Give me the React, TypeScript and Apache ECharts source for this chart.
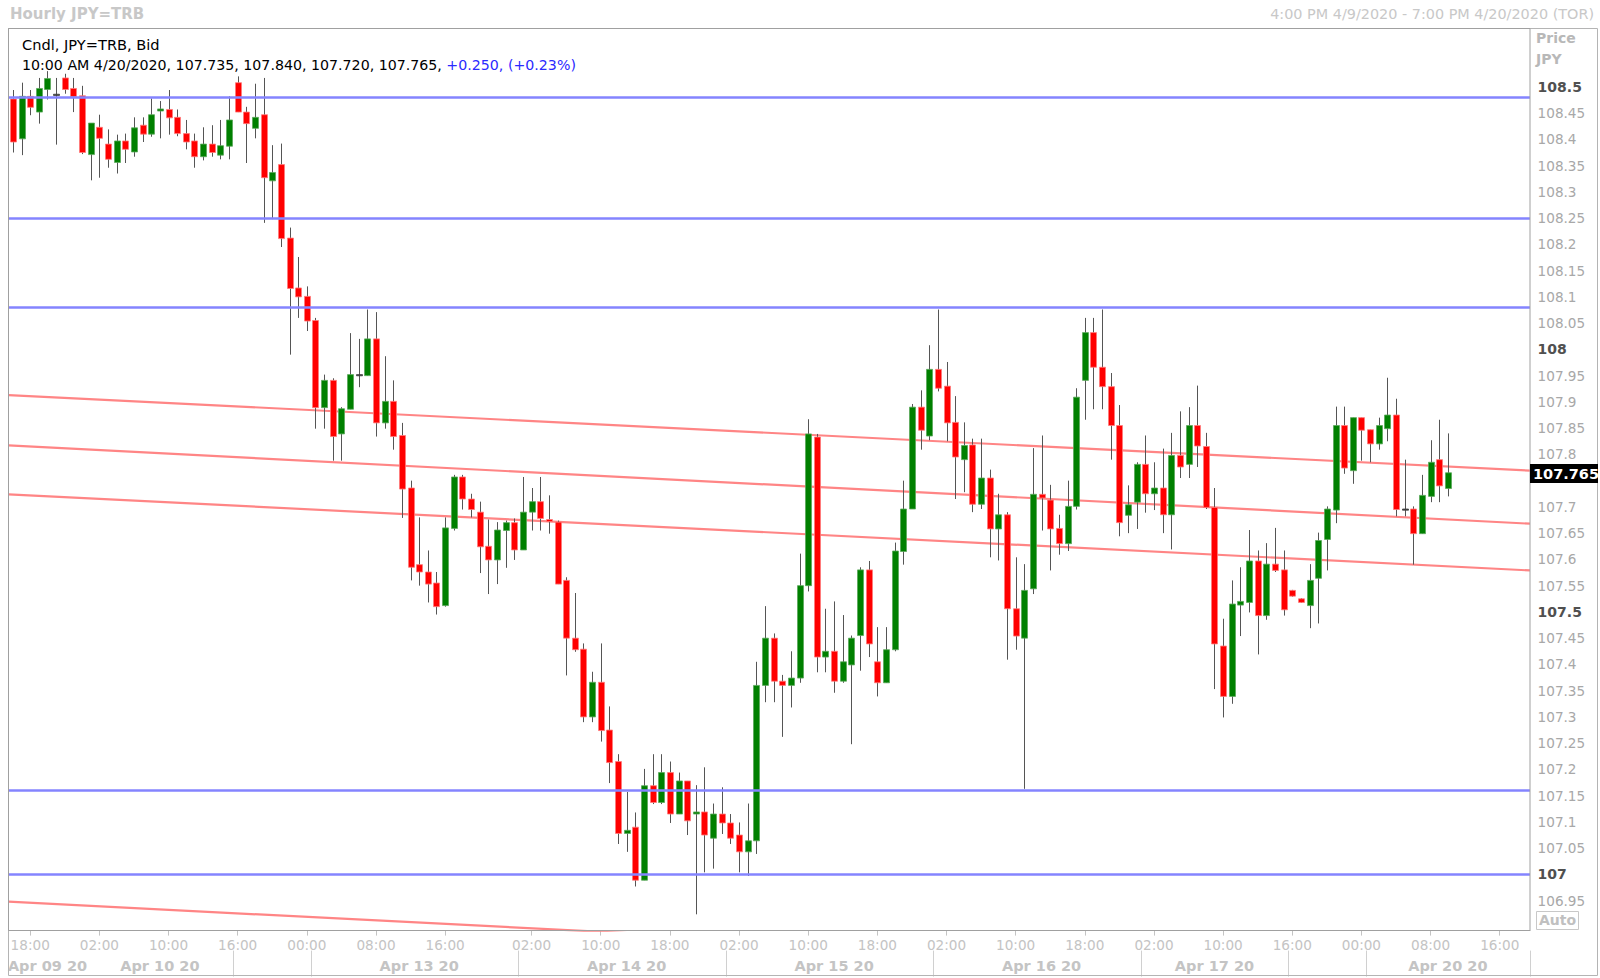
import React, { useEffect, useRef } from 'react';
import * as echarts from 'echarts';

// ---- categories (hourly sessions, TOR time) ----
const sessions: [string, number, number][] = [
  ['Apr 09', 16, 23], ['Apr 10', 0, 17], ['Apr 12', 16, 23], ['Apr 13', 0, 23],
  ['Apr 14', 0, 23], ['Apr 15', 0, 23], ['Apr 16', 0, 23], ['Apr 17', 0, 17],
  ['Apr 19', 16, 23], ['Apr 20', 0, 19],
];
const categories: string[] = [];
sessions.forEach(([d, a, b]) => {
  for (let h = a; h <= b; h++) categories.push(d + ' ' + String(h).padStart(2, '0') + ':00');
});

const timeLabelIdx = [2, 10, 18, 26, 34, 42, 50, 60, 68, 76, 84, 92, 100, 108, 116, 124, 132, 140, 148, 156, 164, 172];
const dateLabels: Record<number, string> = {
  4: 'Apr 09 20', 17: 'Apr 10 20', 47: 'Apr 13 20', 71: 'Apr 14 20',
  95: 'Apr 15 20', 119: 'Apr 16 20', 139: 'Apr 17 20', 166: 'Apr 20 20',
};
const daySeparators = [26, 35, 59, 83, 107, 131, 148, 157];

// ---- OHLC: [open, high, low, close] ----
const candles: [number, number, number, number][] = [
  [108.477, 108.494, 108.375, 108.395], [108.401, 108.508, 108.370, 108.482], [108.482, 108.494, 108.446, 108.461],
  [108.452, 108.517, 108.430, 108.497], [108.495, 108.530, 108.476, 108.516], [108.486, 108.517, 108.390, 108.486],
  [108.517, 108.525, 108.487, 108.495], [108.497, 108.517, 108.452, 108.481], [108.483, 108.502, 108.372, 108.375],
  [108.371, 108.431, 108.322, 108.431], [108.423, 108.447, 108.327, 108.402], [108.391, 108.419, 108.346, 108.362],
  [108.356, 108.409, 108.335, 108.397], [108.397, 108.411, 108.355, 108.381], [108.376, 108.442, 108.367, 108.422],
  [108.427, 108.442, 108.395, 108.410], [108.410, 108.478, 108.405, 108.447], [108.454, 108.473, 108.402, 108.458],
  [108.457, 108.494, 108.409, 108.441], [108.442, 108.457, 108.406, 108.411], [108.411, 108.437, 108.381, 108.395],
  [108.397, 108.411, 108.346, 108.367], [108.367, 108.423, 108.360, 108.391], [108.391, 108.427, 108.367, 108.375],
  [108.370, 108.437, 108.362, 108.388], [108.387, 108.482, 108.362, 108.437], [108.508, 108.520, 108.452, 108.452],
  [108.452, 108.462, 108.355, 108.430], [108.421, 108.506, 108.402, 108.442], [108.447, 108.517, 108.241, 108.327],
  [108.321, 108.389, 108.248, 108.337], [108.352, 108.392, 108.195, 108.211], [108.212, 108.232, 107.990, 108.116],
  [108.117, 108.176, 108.060, 108.100], [108.101, 108.120, 108.035, 108.054], [108.055, 108.060, 107.849, 107.889],
  [107.889, 107.952, 107.849, 107.941], [107.941, 107.945, 107.788, 107.834], [107.839, 107.890, 107.788, 107.887],
  [107.886, 108.031, 107.886, 107.952], [107.952, 108.020, 107.928, 107.952], [107.950, 108.076, 107.950, 108.020],
  [108.020, 108.071, 107.834, 107.860], [107.860, 107.987, 107.849, 107.901], [107.901, 107.941, 107.809, 107.834],
  [107.836, 107.860, 107.679, 107.734], [107.736, 107.750, 107.560, 107.585], [107.590, 107.680, 107.550, 107.576],
  [107.576, 107.617, 107.518, 107.553], [107.555, 107.576, 107.495, 107.510], [107.512, 107.680, 107.510, 107.660],
  [107.659, 107.761, 107.655, 107.757], [107.757, 107.761, 107.695, 107.715], [107.715, 107.725, 107.680, 107.695],
  [107.690, 107.710, 107.574, 107.624], [107.625, 107.676, 107.534, 107.599], [107.599, 107.671, 107.553, 107.656],
  [107.655, 107.674, 107.584, 107.670], [107.670, 107.678, 107.599, 107.618], [107.618, 107.757, 107.618, 107.690],
  [107.690, 107.736, 107.655, 107.710], [107.710, 107.757, 107.655, 107.678], [107.676, 107.722, 107.649, 107.672],
  [107.671, 107.674, 107.553, 107.553], [107.560, 107.566, 107.379, 107.450], [107.450, 107.536, 107.424, 107.428],
  [107.429, 107.440, 107.290, 107.300], [107.300, 107.386, 107.290, 107.366], [107.366, 107.440, 107.253, 107.274],
  [107.275, 107.320, 107.174, 107.213], [107.215, 107.229, 107.058, 107.078], [107.078, 107.157, 107.043, 107.084],
  [107.090, 107.118, 106.977, 106.989], [106.989, 107.201, 106.989, 107.169], [107.169, 107.229, 107.134, 107.137],
  [107.137, 107.229, 107.134, 107.194], [107.194, 107.215, 107.098, 107.115], [107.115, 107.194, 107.115, 107.178],
  [107.178, 107.178, 107.075, 107.102], [107.115, 107.170, 106.924, 107.119], [107.119, 107.204, 107.004, 107.075],
  [107.069, 107.135, 107.011, 107.115], [107.115, 107.166, 107.077, 107.098], [107.098, 107.115, 107.058, 107.069],
  [107.075, 107.099, 107.004, 107.043], [107.043, 107.135, 106.997, 107.064], [107.064, 107.405, 107.039, 107.360],
  [107.360, 107.511, 107.328, 107.450], [107.450, 107.459, 107.328, 107.368], [107.368, 107.380, 107.262, 107.360],
  [107.360, 107.425, 107.318, 107.374], [107.374, 107.611, 107.365, 107.550], [107.550, 107.867, 107.539, 107.839],
  [107.833, 107.839, 107.385, 107.414], [107.414, 107.506, 107.385, 107.425], [107.425, 107.520, 107.346, 107.368],
  [107.368, 107.494, 107.365, 107.405], [107.399, 107.455, 107.248, 107.450], [107.455, 107.585, 107.388, 107.580],
  [107.580, 107.597, 107.414, 107.439], [107.405, 107.471, 107.339, 107.365], [107.365, 107.471, 107.365, 107.428],
  [107.428, 107.632, 107.425, 107.616], [107.615, 107.750, 107.590, 107.696], [107.696, 107.896, 107.696, 107.890],
  [107.890, 107.922, 107.809, 107.846], [107.835, 108.008, 107.827, 107.962], [107.962, 108.076, 107.920, 107.926],
  [107.930, 107.976, 107.825, 107.860], [107.861, 107.911, 107.715, 107.795], [107.790, 107.861, 107.728, 107.817],
  [107.818, 107.830, 107.690, 107.705], [107.705, 107.830, 107.696, 107.755], [107.755, 107.771, 107.604, 107.658],
  [107.658, 107.725, 107.598, 107.685], [107.685, 107.690, 107.409, 107.506], [107.506, 107.604, 107.428, 107.454],
  [107.450, 107.591, 107.163, 107.541], [107.544, 107.812, 107.534, 107.724], [107.724, 107.836, 107.655, 107.717],
  [107.713, 107.742, 107.579, 107.658], [107.659, 107.685, 107.609, 107.630], [107.630, 107.750, 107.616, 107.701],
  [107.701, 107.926, 107.695, 107.909], [107.941, 108.060, 107.866, 108.032], [108.032, 108.060, 107.886, 107.966],
  [107.966, 108.076, 107.886, 107.929], [107.929, 107.955, 107.790, 107.855], [107.855, 107.894, 107.644, 107.670],
  [107.684, 107.741, 107.650, 107.704], [107.709, 107.785, 107.658, 107.781], [107.781, 107.836, 107.689, 107.725],
  [107.725, 107.785, 107.694, 107.736], [107.736, 107.811, 107.650, 107.685], [107.685, 107.841, 107.619, 107.798],
  [107.798, 107.882, 107.755, 107.776], [107.781, 107.890, 107.755, 107.855], [107.855, 107.931, 107.776, 107.816],
  [107.815, 107.841, 107.696, 107.699], [107.699, 107.736, 107.353, 107.439], [107.435, 107.487, 107.299, 107.339],
  [107.339, 107.560, 107.325, 107.515], [107.513, 107.585, 107.454, 107.520], [107.518, 107.656, 107.499, 107.597],
  [107.597, 107.617, 107.419, 107.493], [107.493, 107.631, 107.485, 107.591], [107.591, 107.660, 107.576, 107.579],
  [107.580, 107.617, 107.493, 107.504], [107.541, 107.542, 107.529, 107.530], [107.525, 107.526, 107.517, 107.518],
  [107.512, 107.591, 107.469, 107.560], [107.564, 107.651, 107.478, 107.636], [107.638, 107.701, 107.579, 107.696],
  [107.694, 107.891, 107.669, 107.855], [107.855, 107.891, 107.763, 107.774], [107.769, 107.870, 107.744, 107.870],
  [107.870, 107.870, 107.788, 107.846], [107.847, 107.847, 107.785, 107.820], [107.820, 107.870, 107.809, 107.855],
  [107.849, 107.946, 107.825, 107.875], [107.875, 107.906, 107.682, 107.695], [107.696, 107.790, 107.682, 107.696],
  [107.696, 107.701, 107.590, 107.649], [107.649, 107.761, 107.649, 107.722], [107.720, 107.827, 107.709, 107.785],
  [107.790, 107.866, 107.709, 107.740], [107.735, 107.840, 107.720, 107.765],
];

// ---- studies ----
const horizontalLevels = [108.483, 108.247, 108.079, 107.160, 106.995];
// trend channel lines: [price at left edge, price at right edge]
const trendLines: [number, number][] = [
  [107.913, 107.769], [107.817, 107.668], [107.724, 107.579], [106.948, 106.801],
];
const lastChange = '+0.250';
const lastChangePct = '(+0.23%)';
const yMin = 106.893;
const yMax = 108.611;

const FONT = "'DejaVu Sans', Tahoma, Verdana, sans-serif";
const GREY = '#c4c4c4';
const GRID_L = 8.6;
const GRID_R = 1530;

export default function App() {
  const ref = useRef<HTMLDivElement>(null);
  useEffect(() => {
    if (!ref.current) return;
    const chart = echarts.init(ref.current, null, { renderer: 'svg' });
    const last = candles[candles.length - 1];
    const lastClose = last[3];
    const lastLine = '10:00 AM 4/20/2020, ' + last.map((v) => v.toFixed(3)).join(', ') + ', ';
    const timeSet = new Set(timeLabelIdx);
    const sepSet = new Set(daySeparators);

    const graphic: any[] = [
      { type: 'text', left: 10, top: 6, z: 20,
        style: { text: 'Hourly JPY=TRB', fill: '#c8c8c8', font: 'bold 15px ' + FONT } },
      { type: 'text', right: 6, top: 7, z: 20,
        style: { text: '4:00 PM 4/9/2020 - 7:00 PM 4/20/2020 (TOR)', fill: '#c8c8c8', font: '14.4px ' + FONT } },
      { type: 'rect', z: 1, silent: true,
        shape: { x: 8.5, y: 28.5, width: 1589, height: 947 },
        style: { fill: 'none', stroke: '#b4b4b4', lineWidth: 1 } },
      { type: 'rect', z: 15, silent: true,
        shape: { x: 8.5, y: 28.5, width: GRID_R - 8.5, height: 902 },
        style: { fill: 'none', stroke: '#a0a0a0', lineWidth: 1 } },
      { type: 'text', left: 22, top: 37, z: 20,
        style: { text: 'Cndl, JPY=TRB, Bid', fill: '#000', font: '14.6px ' + FONT } },
      { type: 'text', left: 22, top: 58, z: 20,
        style: {
          text: '{k|' + lastLine + '}{b|' + lastChange + ', ' + lastChangePct + '}',
          rich: {
            k: { fill: '#000', fontSize: 14.2, fontFamily: FONT },
            b: { fill: '#2a2aff', fontSize: 14.2, fontFamily: FONT },
          },
        } },
      { type: 'text', left: 1536, top: 31, z: 20,
        style: { text: 'Price', fill: '#b8b8b8', font: 'bold 14px ' + FONT } },
      { type: 'text', left: 1536, top: 52, z: 20,
        style: { text: 'JPY', fill: '#b8b8b8', font: 'bold 14px ' + FONT } },
      { type: 'rect', z: 20, shape: { x: 1536.5, y: 911.5, width: 42, height: 18 },
        style: { fill: '#fff', stroke: '#c8c8c8', lineWidth: 1 } },
      { type: 'text', left: 1539, top: 913, z: 21,
        style: { text: 'Auto', fill: '#c0c0c0', font: 'bold 14px ' + FONT } },
    ];

    const option: any = {
      animation: false,
      backgroundColor: '#ffffff',
      grid: { left: GRID_L, right: 1600 - GRID_R, top: 28.6, bottom: 47.4, containLabel: false },
      xAxis: [
        {
          type: 'category', data: categories, boundaryGap: true, position: 'bottom',
          axisLine: { show: true, lineStyle: { color: '#a0a0a0', width: 1 } },
          axisTick: { show: true, alignWithLabel: true, length: 5, lineStyle: { color: GREY },
            interval: (i: number) => timeSet.has(i) },
          axisLabel: { show: true, interval: (i: number) => timeSet.has(i), margin: 7,
            formatter: (v: string) => v.slice(-5), color: GREY, fontSize: 13.6, fontFamily: FONT },
          splitLine: { show: false },
        },
        {
          type: 'category', data: categories, boundaryGap: true, position: 'bottom', offset: 20,
          axisLine: { show: false },
          axisTick: { show: true, alignWithLabel: false, length: 26, inside: false,
            lineStyle: { color: '#d0d0d0' }, interval: (i: number) => sepSet.has(i) },
          axisLabel: { show: true, interval: (i: number) => dateLabels[i] !== undefined, margin: 8,
            formatter: (_v: string, i: number) => dateLabels[i] || '', color: GREY, fontSize: 14.5,
            fontWeight: 'bold', fontFamily: FONT },
          splitLine: { show: false },
        },
        { type: 'value', min: 0, max: 1, show: false },
      ],
      yAxis: {
        type: 'value', position: 'right', min: yMin, max: yMax, scale: true,
        minInterval: 0.05, maxInterval: 0.05, splitNumber: 34,
        axisLine: { show: true, lineStyle: { color: '#a0a0a0' } },
        axisTick: { show: false },
        splitLine: { show: false },
        axisLabel: {
          show: true, margin: 7.6, showMinLabel: false, showMaxLabel: false,
          formatter: (v: number) => {
            if (v > 108.52 || v < 106.92) return '';
            if (Math.abs(v - lastClose) < 0.02) return ''; // hidden under the last-price tag
            const s = String(Number(v.toFixed(2)));
            const major = Math.abs(v * 2 - Math.round(v * 2)) < 1e-6;
            return major ? '{b|' + s + '}' : '{n|' + s + '}';
          },
          rich: {
            b: { fontWeight: 'bold', color: '#505050', fontSize: 14, fontFamily: FONT },
            n: { color: '#a8a8a8', fontSize: 13.6, fontFamily: FONT },
          },
        },
      },
      series: [
        {
          type: 'custom', name: 'candles', xAxisIndex: 0, yAxisIndex: 0,
          data: candles.map((c, i) => [i, c[0], c[1], c[2], c[3]]),
          encode: { x: 0, y: [1, 2, 3, 4] },
          clip: true,
          z: 3,
          renderItem: (_params: any, api: any) => {
            const x = api.value(0);
            const o = api.value(1), h = api.value(2), l = api.value(3), c = api.value(4);
            const pO = api.coord([x, o]);
            const pC = api.coord([x, c]);
            const pH = api.coord([x, h]);
            const pL = api.coord([x, l]);
            const band = api.size([1, 0])[0];
            const w = Math.max(3, Math.round(band * 0.7));
            const cx = Math.round(pO[0]);
            const doji = Math.abs(o - c) < 1e-9;
            const up = c > o;
            const top = Math.min(pO[1], pC[1]);
            const hgt = Math.max(Math.abs(pO[1] - pC[1]), 1.2);
            const fill = doji ? '#404040' : up ? '#008000' : '#ff0000';
            const stroke = doji ? '#404040' : up ? '#5aa85a' : '#ff7a7a';
            return {
              type: 'group',
              children: [
                { type: 'line', shape: { x1: cx + 0.5, y1: pH[1], x2: cx + 0.5, y2: pL[1] },
                  style: { stroke: '#555555', lineWidth: 1 } },
                { type: 'rect', shape: { x: cx + 0.5 - w / 2, y: top, width: w, height: hgt },
                  style: { fill, stroke, lineWidth: 0.8 } },
              ],
            };
          },
          markLine: {
            silent: true, symbol: 'none', animation: false,
            label: { show: false },
            lineStyle: { color: '#8484ff', width: 2.5, type: 'solid' },
            data: horizontalLevels.map((v) => ({ yAxis: v })),
          },
        },
        ...trendLines.map((t, k) => ({
          type: 'line', name: 'trend' + k, xAxisIndex: 2, yAxisIndex: 0,
          data: [[0, t[0]], [1, t[1]]], symbol: 'none', clip: true, silent: true, z: 2,
          lineStyle: { color: '#ff8585', width: 2.2 },
        })),
      ],
      graphic,
    };
    chart.setOption(option);

    // last-price tag on the price axis, positioned through the y scale
    const py = chart.convertToPixel({ yAxisIndex: 0 } as any, lastClose) as number;
    chart.setOption({
      graphic: graphic.concat([
        { type: 'rect', z: 30, silent: true,
          shape: { x: GRID_R, y: Math.round(py) - 9, width: 1598 - GRID_R, height: 19 },
          style: { fill: '#000000' } },
        { type: 'text', z: 31, silent: true, x: GRID_R + 3, y: Math.round(py) + 0.5,
          style: { text: lastClose.toFixed(3), fill: '#ffffff', font: 'bold 14.5px ' + FONT,
            verticalAlign: 'middle', align: 'left' } },
      ]),
    });
    return () => chart.dispose();
  }, []);
  return <div ref={ref} style={{ position: 'fixed', left: 0, top: 0, width: 1600, height: 978 }} />;
}
